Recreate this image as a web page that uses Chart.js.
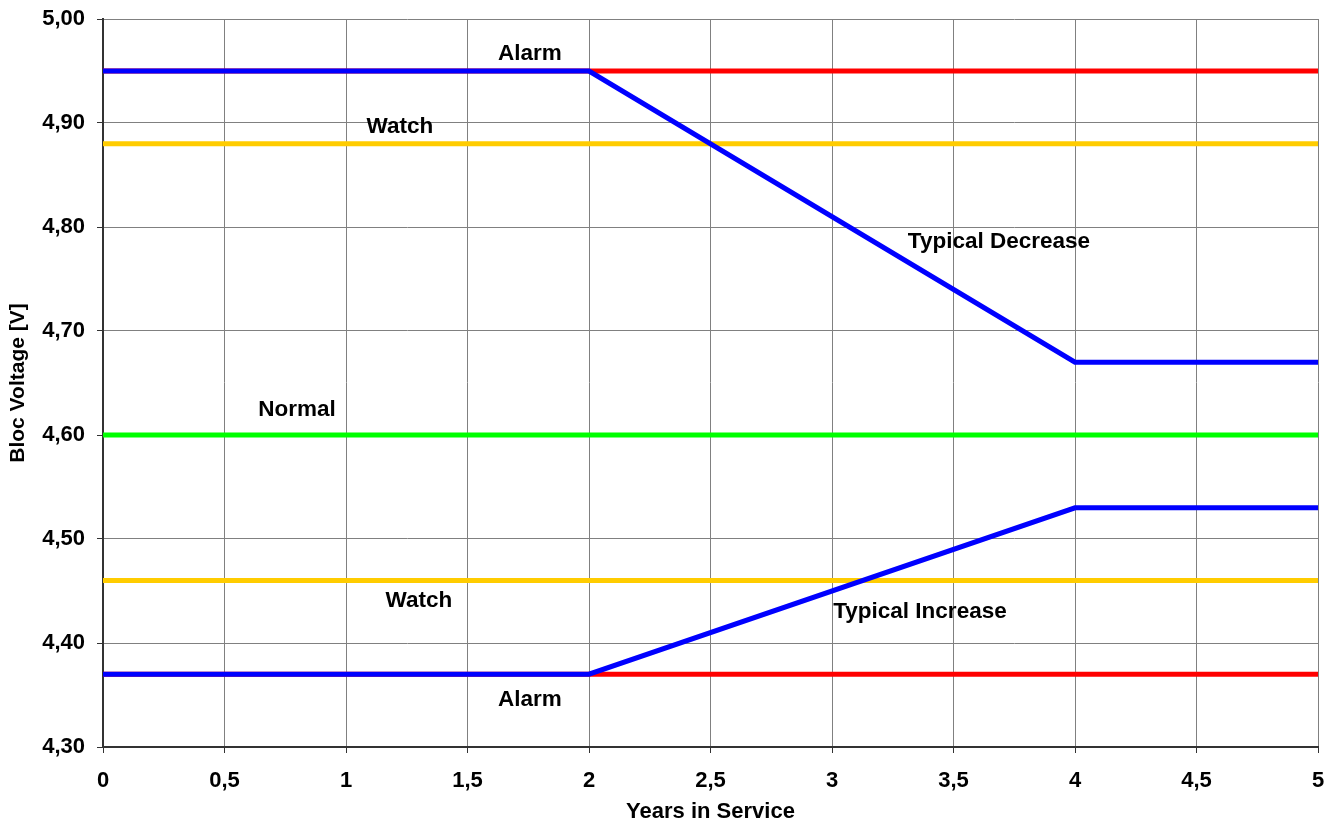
<!DOCTYPE html>
<html>
<head>
<meta charset="utf-8">
<script src="https://cdn.jsdelivr.net/npm/chart.js@4/dist/chart.umd.min.js"></script>
<style>
    body { margin: 0; background: #ffffff; }
    #wrap { width: 1340px; height: 825px; }
</style>
</head>
<body>
<div id="wrap"><canvas id="bloc-chart" width="1340" height="825"></canvas></div>
<script>
// Years in service where the typical curves bend
const years = [0, 2, 4, 5];
const typicalDecrease = [4.95, 4.95, 4.67, 4.67];
const typicalIncrease = [4.37, 4.37, 4.53, 4.53];

// Limit lines run across the whole range
const limitYears = [0, 5];
const alarmHigh = [4.95, 4.95];
const watchHigh = [4.88, 4.88];
const normalLine = [4.60, 4.60];
const watchLow = [4.46, 4.46];
const alarmLow = [4.37, 4.37];

// Text labels inside the plot (data coordinates)
const noteTexts = ['Alarm', 'Watch', 'Typical Decrease', 'Normal', 'Watch', 'Typical Increase', 'Alarm'];
const noteX = [1.757, 1.222, 3.687, 0.798, 1.300, 3.362, 1.757];
const noteY = [4.967, 4.896, 4.786, 4.624, 4.441, 4.430, 4.345];

const FONT = "'Liberation Sans', Arial, sans-serif";

function toPoints(xs, ys) {
    return xs.map((x, i) => ({ x: x, y: ys[i] }));
}

function lineSet(label, xs, ys, color) {
    return {
        label: label,
        data: toPoints(xs, ys),
        borderColor: color,
        backgroundColor: color,
        borderWidth: 5,
        pointRadius: 0,
        showLine: true,
        fill: false,
        tension: 0
    };
}

// Plugin that writes the annotation texts
const notesPlugin = {
    id: 'notes',
    afterDatasetsDraw(chart) {
        const ctx = chart.ctx;
        const xs = chart.scales.x;
        const ys = chart.scales.y;
        ctx.save();
        ctx.font = 'bold 22.5px ' + FONT;
        ctx.fillStyle = '#000000';
        ctx.textAlign = 'center';
        ctx.textBaseline = 'middle';
        noteTexts.forEach((t, i) => {
            ctx.fillText(t, xs.getPixelForValue(noteX[i]), ys.getPixelForValue(noteY[i]));
        });
        ctx.restore();
    }
};

const ctx = document.getElementById('bloc-chart').getContext('2d');
new Chart(ctx, {
    type: 'scatter',
    data: {
        datasets: [
            lineSet('Typical Decrease', years, typicalDecrease, '#0000ff'),
            lineSet('Typical Increase', years, typicalIncrease, '#0000ff'),
            lineSet('Alarm high', limitYears, alarmHigh, '#ff0000'),
            lineSet('Alarm low', limitYears, alarmLow, '#ff0000'),
            lineSet('Watch high', limitYears, watchHigh, '#ffcc00'),
            lineSet('Watch low', limitYears, watchLow, '#ffcc00'),
            lineSet('Normal', limitYears, normalLine, '#00ff00')
        ]
    },
    options: {
        responsive: false,
        animation: false,
        layout: {
            padding: { top: 19, right: 22, bottom: 0, left: 0 }
        },
        plugins: {
            legend: { display: false },
            tooltip: { enabled: false }
        },
        scales: {
            x: {
                type: 'linear',
                min: 0,
                max: 5,
                afterFit: function(scale) { scale.height = 78; },
                ticks: {
                    stepSize: 0.5,
                    padding: 15,
                    color: '#000000',
                    font: { family: FONT, size: 22, weight: 'bold' },
                    callback: function(v) { return String(v).replace('.', ','); }
                },
                grid: { color: '#808080', lineWidth: 1, tickLength: 6, tickColor: '#333333' },
                border: { color: '#333333', width: 2 },
                title: {
                    display: true,
                    text: 'Years in Service',
                    color: '#000000',
                    font: { family: FONT, size: 22, weight: 'bold' },
                    padding: { top: 0, bottom: 0 }
                }
            },
            y: {
                type: 'linear',
                min: 4.3,
                max: 5.0,
                afterFit: function(scale) {
                    scale.width = 103;
                    scale.paddingTop = 0;
                    scale.paddingBottom = 0;
                },
                ticks: {
                    stepSize: 0.1,
                    padding: 12,
                    color: '#000000',
                    font: { family: FONT, size: 22, weight: 'bold' },
                    callback: function(v) { return Number(v).toFixed(2).replace('.', ','); }
                },
                grid: { color: '#808080', lineWidth: 1, tickLength: 6, tickColor: '#333333' },
                border: { color: '#333333', width: 2 },
                title: {
                    display: true,
                    text: 'Bloc Voltage [V]',
                    color: '#000000',
                    font: { family: FONT, size: 21, weight: 'bold' },
                    padding: { top: 6, bottom: 0 }
                }
            }
        }
    },
    plugins: [notesPlugin]
});
</script>
</body>
</html>
